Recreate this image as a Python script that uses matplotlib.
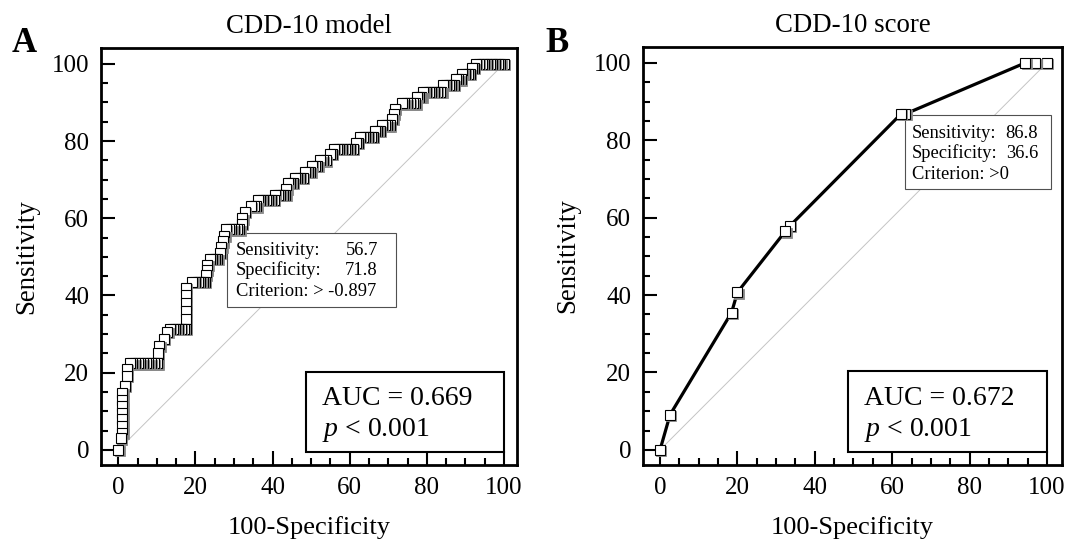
import matplotlib
matplotlib.use('Agg')
import matplotlib.pyplot as plt
from matplotlib.patches import Rectangle
from matplotlib.ticker import MultipleLocator
from matplotlib.transforms import offset_copy

plt.rcParams['font.family'] = ['Liberation Serif', 'DejaVu Serif']
plt.rcParams['mathtext.fontset'] = 'custom'
plt.rcParams['mathtext.rm'] = 'Liberation Serif'
plt.rcParams['mathtext.it'] = 'Liberation Serif:italic'

# ROC points, panel A (CDD-10 model)
fpr_a = [0.0, 0.6,
         1.0, 1.0, 1.0, 1.0, 1.0, 1.0, 1.0,
         1.7, 2.2, 2.2,
         2.9, 3.6, 4.3, 5.0, 5.7, 6.4, 7.1, 7.8, 8.5, 9.2, 9.9, 10.3,
         10.3, 10.6, 11.8, 12.7,
         13.4, 14.1, 14.8, 15.5, 16.2, 16.9, 17.5,
         17.5, 17.5, 17.5, 17.5, 17.5,
         19.2, 19.9, 20.6, 21.3, 22.0, 22.5,
         22.7, 22.9, 23.1, 23.7, 24.4, 25.1, 25.7,
         26.4, 26.7, 27.1, 27.5, 27.9, 28.6, 29.3, 30.0, 30.7, 31.4,
         32.0, 32.2, 32.8, 34.4, 35.1, 35.8,
         36.1, 36.8, 37.5, 38.2, 38.9, 39.6, 40.3,
         40.6, 41.3, 42.0, 42.7, 43.3,
         43.6, 43.9, 44.6, 45.3,
         45.7, 46.4, 47.1, 47.8,
         48.5, 49.2, 49.8,
         50.2, 50.9, 51.6,
         52.4, 53.1, 53.8,
         54.8, 55.4,
         55.9, 56.6, 57.3, 58.0, 58.7, 59.4, 60.1, 60.8,
         61.6, 62.2,
         62.7, 63.4, 64.1, 64.8, 65.5, 66.0,
         66.5, 67.2, 67.8,
         68.4, 69.1, 69.8, 70.5,
         71.1, 71.4, 71.7,
         73.5, 74.2, 74.9, 75.6, 76.3, 77.0,
         77.4, 78.1, 78.6,
         79.1, 79.8, 80.5, 81.2, 81.9, 82.6, 83.3, 83.8,
         84.3, 85.0, 85.7, 86.4, 87.0,
         87.5, 88.2, 88.8,
         89.2, 89.9, 90.6, 91.2,
         91.6, 92.2,
         92.8, 93.5, 94.2, 94.9, 95.6, 96.3, 97.0, 97.7, 98.4, 99.1, 100.0]
tpr_a = [0.0, 3.0,
         4.5, 6.2, 7.9, 9.6, 11.3, 13.0, 14.7,
         16.6, 19.2, 21.0,
         22.4, 22.4, 22.4, 22.4, 22.4, 22.4, 22.4, 22.4, 22.4, 22.4, 22.4, 22.4,
         25.0, 27.0, 28.7, 30.5,
         31.3, 31.3, 31.3, 31.3, 31.3, 31.3, 31.3,
         33.9, 36.1, 38.0, 40.0, 41.9,
         43.6, 43.6, 43.6, 43.6, 43.6, 43.6,
         45.3, 46.7, 48.0, 49.5, 49.5, 49.5, 49.5,
         51.1, 52.6, 54.0, 55.5, 57.1, 57.1, 57.1, 57.1, 57.1, 57.1,
         58.6, 60.0, 61.6, 63.1, 63.1, 63.1,
         64.7, 64.7, 64.7, 64.7, 64.7, 64.7, 64.7,
         66.1, 66.1, 66.1, 66.1, 66.1,
         67.7, 69.2, 69.2, 69.2,
         70.5, 70.5, 70.5, 70.5,
         72.1, 72.1, 72.1,
         73.6, 73.6, 73.6,
         75.0, 75.0, 75.0,
         76.6, 76.6,
         78.0, 78.0, 78.0, 78.0, 78.0, 78.0, 78.0, 78.0,
         79.5, 79.5,
         81.1, 81.1, 81.1, 81.1, 81.1, 81.1,
         82.6, 82.6, 82.6,
         84.1, 84.1, 84.1, 84.1,
         85.7, 87.0, 88.4,
         89.8, 89.8, 89.8, 89.8, 89.8, 89.8,
         91.5, 91.5, 91.5,
         92.8, 92.8, 92.8, 92.8, 92.8, 92.8, 92.8, 92.8,
         94.6, 94.6, 94.6, 94.6, 94.6,
         96.0, 96.0, 96.0,
         97.4, 97.4, 97.4, 97.4,
         98.9, 98.9,
         100.0, 100.0, 100.0, 100.0, 100.0, 100.0, 100.0, 100.0, 100.0, 100.0, 100.0]

# ROC points, panel B (CDD-10 score)
fpr_b = [0.0, 2.6, 18.5, 20.0, 32.4, 33.5, 62.3, 63.4, 94.4, 97.0, 100.0]
tpr_b = [0.0, 9.1, 35.5, 40.7, 56.5, 57.8, 86.8, 86.8, 100.0, 100.0, 100.0]

titles = ['CDD-10 model', 'CDD-10 score']
letters = ['A', 'B']
auc_vals = ['0.669', '0.672']
info_labels = ['Sensitivity:', 'Specificity:', 'Criterion:']
info_a = ['56.7', '71.8', '> -0.897']
info_b = ['86.8', '36.6', '>0']

fig = plt.figure(figsize=(10.68, 5.44), dpi=100)
W, H = 1068, 544
axA = fig.add_axes([101 / W, 1 - 465 / H, 416 / W, 417 / H])
axB = fig.add_axes([643 / W, 1 - 465 / H, 419 / W, 418 / H])


def setup(ax, title, xlim):
    ax.set_xlim(*xlim)
    ax.set_ylim(-3.9, 104.1)
    ax.set_xticks(range(0, 101, 20))
    ax.set_yticks(range(0, 101, 20))
    ax.xaxis.set_minor_locator(MultipleLocator(5))
    ax.yaxis.set_minor_locator(MultipleLocator(5))
    ax.tick_params(which='both', direction='in', top=False, right=False, width=1.5)
    ax.tick_params(which='major', length=10, labelsize=18, pad=8.5)
    ax.tick_params(which='minor', length=5)
    for s in ax.spines.values():
        s.set_linewidth(2)
    ax.set_title(title, fontsize=19.3, pad=11)
    ax.set_xlabel('100-Specificity', fontsize=19)
    ax.set_ylabel('Sensitivity', fontsize=19.3)
    ax.xaxis.set_label_coords(0.5, -0.122)
    ax.yaxis.set_label_coords(-0.149, 0.5)
    ax.plot([0, 100], [0, 100], color='#c4c4c4', lw=0.7, zorder=1)


def roc(ax, fpr, tpr, lw):
    ax.plot(fpr, tpr, color='black', lw=lw, zorder=2, solid_capstyle='butt')
    shadow = offset_copy(ax.transData, fig=fig, x=1.3, y=-1.3, units='dots')
    # draw from the top right end back to the origin, each square with its shadow
    for x, y in zip(fpr[::-1], tpr[::-1]):
        ax.plot([x], [y], 's', ms=6.6, mfc='#8a8a8a', mec='#8a8a8a', mew=0.6,
                transform=shadow, zorder=4)
        ax.plot([x], [y], 's', ms=6.6, mfc='white', mec='black', mew=0.8,
                zorder=4)


def info_box(ax, box, x0, x1, ys, vals):
    ax.add_patch(Rectangle((box[0], box[1]), box[2] - box[0], box[3] - box[1],
                           facecolor='white', edgecolor='#505050', lw=0.8, zorder=3))
    for lab, val, y in zip(info_labels, vals, ys):
        if lab == 'Criterion:':
            ax.text(x0, y, lab + ' ' + val, fontsize=13.3, zorder=5)
        else:
            ax.text(x0, y, lab, fontsize=13.3, zorder=5)
            ax.text(x1, y, val, fontsize=13.3, ha='right', zorder=5)


def auc_box(ax, auc):
    ax.add_patch(Rectangle((48.6, -0.45), 51.5, 20.75, facecolor='white',
                           edgecolor='black', lw=1.5, zorder=3))
    ax.text(52.7, 11.7, 'AUC = ' + auc, fontsize=20, zorder=5)
    ax.text(52.7, 3.5, r'$\it{p}$ < 0.001', fontsize=20, zorder=5)


setup(axA, titles[0], (-4.5, 103.4))
setup(axB, titles[1], (-4.4, 103.9))

info_box(axA, (28.2, 37.0, 72.0, 56.2), 30.5, 67.3, [50.5, 45.2, 39.8], info_a)
info_box(axB, (63.3, 67.4, 101.0, 86.5), 65.1, 97.7, [80.7, 75.4, 70.1], info_b)
auc_box(axA, auc_vals[0])
auc_box(axB, auc_vals[1])

roc(axA, fpr_a, tpr_a, 1.5)
roc(axB, fpr_b, tpr_b, 2.3)

fig.text(12 / W, 1 - 52 / H, letters[0], fontsize=25, fontweight='bold')
fig.text(545 / W, 1 - 52 / H, letters[1], fontsize=25, fontweight='bold')

fig.savefig('out.png', dpi=100)
